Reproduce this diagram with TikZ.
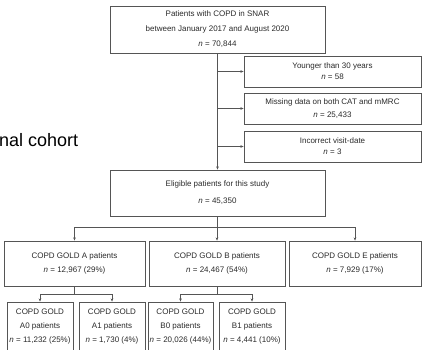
\documentclass[tikz,border=0pt]{standalone}
\usepackage{fontspec}
\setmainfont{Liberation Sans}
\usetikzlibrary{arrows.meta}
\definecolor{linegray}{HTML}{555555}
\definecolor{txtgray}{HTML}{2A2A2A}
\tikzset{
  box/.style={draw=linegray, line width=0.8pt, inner sep=0pt, align=center,
    text=txtgray, font=\fontsize{8}{14}\selectfont},
  conn/.style={draw=linegray, line width=0.8pt},
  arr/.style={conn, -{Stealth[length=3.2pt,width=2.6pt]}}
}
\begin{document}
\begin{tikzpicture}[x=1pt,y=-1pt]
\useasboundingbox (0,0) rectangle (422,349);

% side caption
\node[anchor=base west, inner sep=0pt, font=\fontsize{18}{18}\selectfont] (cap) at (-1,146.5) {nal cohort};

% main flow
\node[box, minimum width=215pt, minimum height=47pt, font=\fontsize{8}{15}\selectfont] (top) at (217.5,29.5)
  {Patients with COPD in SNAR\\between January 2017 and August 2020\\\textit{n} = 70,844};

\node[box, minimum width=177pt, minimum height=31pt, font=\fontsize{8}{11}\selectfont] (ex1) at (332.5,71.5)
  {Younger than 30 years\\\textit{n} = 58};
\node[box, minimum width=177pt, minimum height=31pt, font=\fontsize{8}{13}\selectfont] (ex2) at (332.5,108.5)
  {Missing data on both CAT and mMRC\\\textit{n} = 25,433};
\node[box, minimum width=177pt, minimum height=31pt, font=\fontsize{8}{11}\selectfont] (ex3) at (332.5,146.5)
  {Incorrect visit-date\\\textit{n} = 3};

\node[box, minimum width=215pt, minimum height=46pt, font=\fontsize{8}{17}\selectfont] (elig) at (217.5,193)
  {Eligible patients for this study\\\textit{n} = 45,350};

% GOLD groups
\node[box, minimum width=141pt, minimum height=45pt] (gA) at (74.5,263.5)
  {COPD GOLD A patients\\\textit{n} = 12,967 (29\%)};
\node[box, minimum width=136pt, minimum height=45pt] (gB) at (217,263.5)
  {COPD GOLD B patients\\\textit{n} = 24,467 (54\%)};
\node[box, minimum width=132pt, minimum height=45pt] (gE) at (355,263.5)
  {COPD GOLD E patients\\\textit{n} = 7,929 (17\%)};

% GOLD subgroups
\node[box, minimum width=66pt, minimum height=49pt] (a0) at (40,326.5)
  {COPD GOLD\\A0 patients\\\textit{n} = 11,232 (25\%)};
\node[box, minimum width=66pt, minimum height=49pt] (a1) at (112,326.5)
  {COPD GOLD\\A1 patients\\\textit{n} = 1,730 (4\%)};
\node[box, minimum width=65pt, minimum height=49pt] (b0) at (180.5,326.5)
  {COPD GOLD\\B0 patients\\\textit{n} = 20,026 (44\%)};
\node[box, minimum width=66pt, minimum height=49pt] (b1) at (252,326.5)
  {COPD GOLD\\B1 patients\\\textit{n} = 4,441 (10\%)};

% connectors
\draw[arr] (top.south) -- (elig.north);
\draw[arr] (top.south |- ex1.west) -- (ex1.west);
\draw[arr] (top.south |- ex2.west) -- (ex2.west);
\draw[arr] (top.south |- ex3.west) -- (ex3.west);

\coordinate (bar) at (217.5,227);
\draw[conn] (elig.south) -- (elig.south |- bar);
\draw[conn] (gA.north |- bar) -- (gE.north |- bar);
\draw[arr] (gA.north |- bar) -- (gA.north);
\draw[arr] (gB.north |- bar) -- (gB.north);
\draw[arr] (gE.north |- bar) -- (gE.north);

\coordinate (abar) at (74.5,294);
\draw[conn] (gA.south) -- (gA.south |- abar);
\draw[conn] (a0.north |- abar) -- (a1.north |- abar);
\draw[arr] (a0.north |- abar) -- (a0.north);
\draw[arr] (a1.north |- abar) -- (a1.north);

\draw[conn] (gB.south) -- (gB.south |- abar);
\draw[conn] (b0.north |- abar) -- (b1.north |- abar);
\draw[arr] (b0.north |- abar) -- (b0.north);
\draw[arr] (b1.north |- abar) -- (b1.north);
\end{tikzpicture}
\end{document}
